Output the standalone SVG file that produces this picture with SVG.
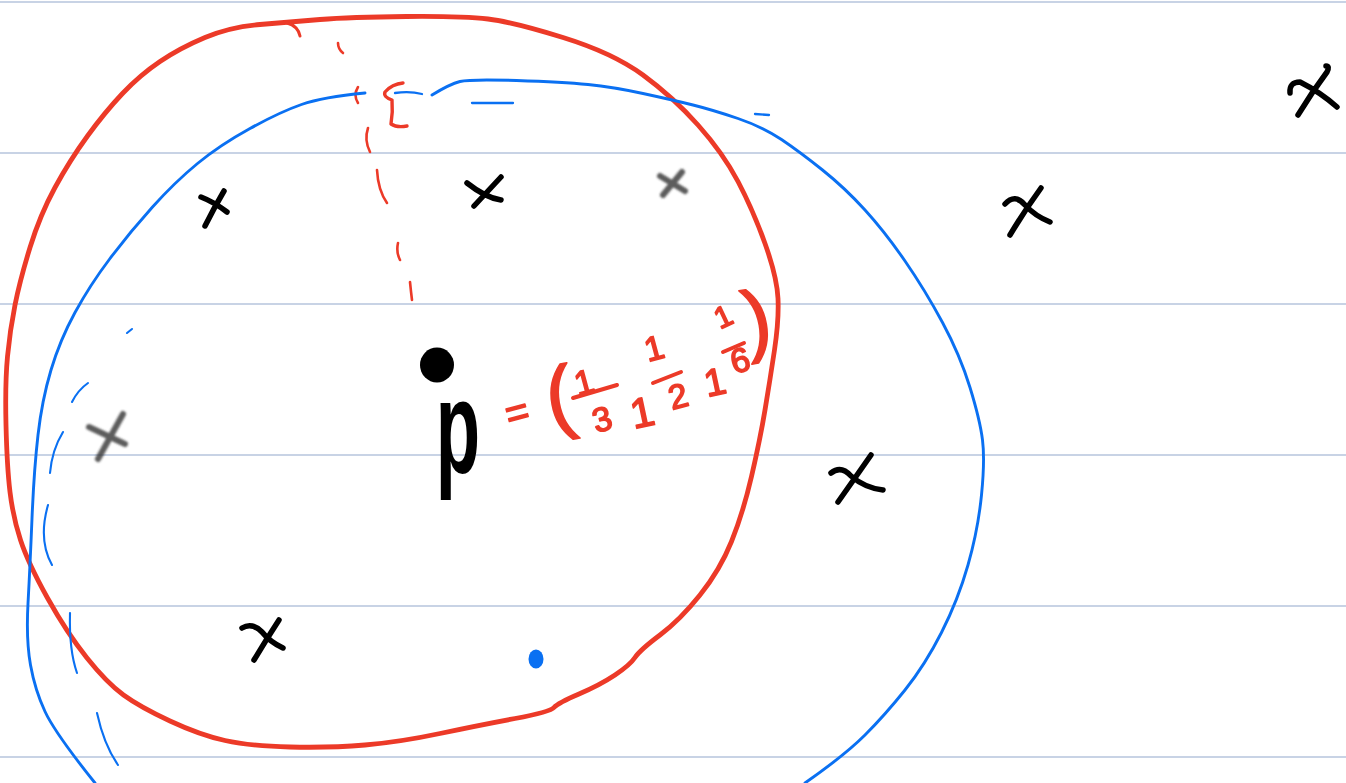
<svg xmlns="http://www.w3.org/2000/svg" width="1346" height="783" viewBox="0 0 1346 783">
<defs>
<style>
.rule{stroke:#b6c4dc;stroke-width:1.3}
.red{fill:none;stroke:#ec3a28;stroke-linecap:round;stroke-linejoin:round}
.blue{fill:none;stroke:#0a70f2;stroke-linecap:round;stroke-linejoin:round}
.ink{fill:none;stroke:#000;stroke-width:5.5;stroke-linecap:round;stroke-linejoin:round}
.grey{fill:none;stroke:#333;stroke-width:6;stroke-linecap:round;opacity:0.8}
.rt{font-family:"Liberation Sans",Arial,sans-serif;fill:#ec3a28;stroke:#ec3a28;stroke-width:1.6;stroke-linejoin:round;text-anchor:middle}
</style>
<filter id="smudge" x="-30%" y="-30%" width="160%" height="160%"><feGaussianBlur stdDeviation="1.3"/></filter>
</defs>
<rect width="1346" height="783" fill="#fff"/>
<g id="ruled-lines">
<line class="rule" x1="0" y1="2" x2="1346" y2="2"/>
<line class="rule" x1="0" y1="153" x2="1346" y2="153"/>
<line class="rule" x1="0" y1="304" x2="1346" y2="304"/>
<line class="rule" x1="0" y1="455" x2="1346" y2="455"/>
<line class="rule" x1="0" y1="606" x2="1346" y2="606"/>
<line class="rule" x1="0" y1="757" x2="1346" y2="757"/>
</g>
<g id="red-circle">
<path class="red" stroke-width="4.8" d="M260,24.5 Q290,22 320,19.5 Q350,17 406.5,16.5 Q463,16 488,19 Q513,22 563,37.5 Q613,53 643,75 Q673,97 698,125 Q723,153 738,181.5 Q753,210 765,243.5 Q777,277 778,298.5 Q779,320 774.5,350 Q770,380 765,410 Q760,440 751.5,476.5 Q743,513 731.5,541.5 Q720,570 700,595 Q680,620 660,635 Q640,650 635,657.5 Q630,665 615,675 Q600,685 579,694 Q558,703 554,707.5 Q550,712 515,718.5 Q480,725 440,733.5 Q400,742 365,745 Q330,748 290,747 Q250,746 225,740.5 Q200,735 170,721 Q140,707 123.5,695 Q107,683 87,658 Q67,633 47.5,598 Q28,563 20.5,540 Q13,517 10,492 Q7,467 6,425 Q5,383 7.5,356.5 Q10,330 15,305 Q20,280 30,247.5 Q40,215 55,187.5 Q70,160 87.5,136 Q105,112 122.5,93.5 Q140,75 160,61.5 Q180,48 205,37.5 Q230,27 260,24.5"/>
<path class="red" stroke-width="3" d="M287,23 Q298,26 300,36"/>
</g>
<g id="red-dashed-radius">
<path class="red" stroke-width="2.6" d="M338,43 Q338,49 343,53"/>
<path class="red" stroke-width="2.6" d="M358,87 Q353,95 358,103"/>
<path class="red" stroke-width="3.4" d="M403,83 Q392,84 385,92 Q383,97 392,100 Q393,112 391,124 Q397,128 407,126"/>
<path class="red" stroke-width="2.6" d="M368,128 Q364,140 370,152"/>
<path class="red" stroke-width="2.6" d="M377,170 Q378,190 387,203"/>
<path class="red" stroke-width="2.6" d="M398,243 Q396,252 400,260"/>
<path class="red" stroke-width="2.6" d="M410,282 Q411,292 412,300"/>
</g>
<g id="blue-circle">
<path class="blue" stroke-width="2.9" d="M365,93 Q323,97 301.5,104.5 Q280,112 250,128.5 Q220,145 197.5,163.5 Q175,182 152.5,207 Q130,232 110,258.5 Q90,285 75,312.5 Q60,340 51,370 Q42,400 38,435 Q34,470 32,518.5 Q30,567 28,603.5 Q26,640 30.5,665 Q35,690 45,711.5 Q55,733 95,783"/>
<path class="blue" stroke-width="2.9" d="M432,95 Q450,84 460,81.5 Q470,79 516.5,80.5 Q563,82 588,84.5 Q613,87 643,93.5 Q673,100 693,105 Q713,110 738,118.5 Q763,127 781.5,139.5 Q800,152 822.5,170 Q845,188 865,210 Q885,232 905,261 Q925,290 942.5,322.5 Q960,355 970,387.5 Q980,420 982.5,440 Q985,460 981.5,495 Q978,530 968,565 Q958,600 941.5,632.5 Q925,665 905,690 Q885,715 865,735 Q845,755 805,783"/>
</g>
<g id="blue-dashes">
<path class="blue" stroke-width="2.3" d="M395,93 Q410,91 422,94"/>
<path class="blue" stroke-width="2.3" d="M472,103 L513,103"/>
<path class="blue" stroke-width="2.3" d="M755,114 L769,115"/>
<path class="blue" stroke-width="2.1" d="M127,333 L132,329"/>
<path class="blue" stroke-width="2.1" d="M72,402 Q78,390 88,383"/>
<path class="blue" stroke-width="2.1" d="M63,432 Q52,450 50,473"/>
<path class="blue" stroke-width="2.1" d="M48,505 Q38,540 52,565"/>
<path class="blue" stroke-width="2.1" d="M70,613 Q69,650 77,673"/>
<path class="blue" stroke-width="2.1" d="M97,713 Q104,745 118,765"/>
</g>
<g id="crosses">
<path class="ink" d="M201,197 Q214,202 227,212 M224,191 Q214,208 205,226"/>
<path class="ink" stroke-width="6" d="M467,183 Q486,198 501,200 M501,177 Q487,192 474,206"/>
<path class="ink" d="M242,628 Q252,622 262,632 Q270,642 283,648 M279,620 Q266,640 254,660"/>
<path class="ink" d="M1005,204 Q1015,193 1025,205 Q1035,216 1050,222 M1041,188 Q1025,210 1010,235"/>
<path class="ink" d="M831,473 Q841,465 851,476 Q865,488 883,490 M871,455 Q855,478 838,502"/>
<path class="ink" d="M1290,93 Q1289,82 1300,82 Q1320,92 1337,107 M1326,66 Q1330,66 1327,72 Q1312,92 1298,115"/>
<g filter="url(#smudge)">
<path class="grey" d="M660,176 L685,191 M682,172 L663,195"/>
<path class="grey" d="M89,427 L125,444 M123,414 L98,459"/>
</g>
</g>
<g id="point-p">
<ellipse cx="437" cy="365" rx="17" ry="17.5" fill="#000"/>
<text transform="translate(458,473) scale(0.55,1)" font-family="'Liberation Sans',Arial,sans-serif" font-weight="bold" font-size="132" text-anchor="middle" fill="#000">p</text>
</g>
<g id="blue-point">
<ellipse cx="536" cy="659" rx="7.5" ry="9.5" fill="#0a70f2"/>
</g>
<g id="formula">
<text class="rt" font-size="40" transform="rotate(-15 517 412)" x="517" y="426">=</text>
<text class="rt" font-size="82" transform="rotate(-10 560 400)" x="560" y="424">(</text>
<text class="rt" font-size="34" transform="rotate(-15 584 382)" x="584" y="394">1</text>
<line class="red" stroke-width="4" x1="573" y1="398" x2="617" y2="385"/>
<text class="rt" font-size="34" transform="rotate(-15 602 419)" x="602" y="431">3</text>
<text class="rt" font-size="42" transform="rotate(-12 642 412)" x="642" y="427">1</text>
<text class="rt" font-size="34" transform="rotate(-15 654 348)" x="654" y="360">1</text>
<line class="red" stroke-width="4" x1="653" y1="383" x2="681" y2="372"/>
<text class="rt" font-size="34" transform="rotate(-15 678 396)" x="678" y="408">2</text>
<text class="rt" font-size="38" transform="rotate(-12 715 382)" x="715" y="395">1</text>
<text class="rt" font-size="30" transform="rotate(-25 723 316)" x="723" y="327">1</text>
<line class="red" stroke-width="4" x1="723" y1="352" x2="744" y2="343"/>
<text class="rt" font-size="34" transform="rotate(-15 740 360)" x="740" y="372">6</text>
<text class="rt" font-size="80" transform="rotate(-10 757 320)" x="757" y="346">)</text>
</g>
</svg>
